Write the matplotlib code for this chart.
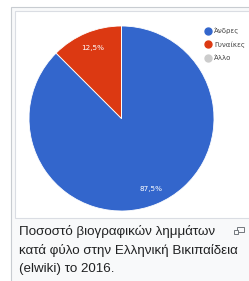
import matplotlib
matplotlib.use("Agg")
import matplotlib.pyplot as plt
from matplotlib.patches import Rectangle
from matplotlib.lines import Line2D

labels = ["Άνδρες", "Γυναίκες", "Άλλο"]
values = [87.5, 12.5, 0.0]
colors = ["#3366cc", "#dc3912", "#cccccc"]
caption = "Ποσοστό βιογραφικών λημμάτων\nκατά φύλο στην Ελληνική Βικιπαίδεια\n(elwiki) το 2016."

W, H = 249, 281
fig = plt.figure(figsize=(W / 100, H / 100), dpi=100)
fig.patch.set_facecolor("white")

def px_rect(x0, y0, x1, y1, **kw):
    return Rectangle((x0 / W, 1 - y1 / H), (x1 - x0) / W, (y1 - y0) / H,
                     transform=fig.transFigure, **kw)

fig.patches.append(px_rect(10.5, 6.5, 260, 290, facecolor="#f8f9fa", edgecolor="#c8ccd1", lw=0.8, zorder=-2))
fig.patches.append(px_rect(14.5, 10.5, 260, 218, facecolor="white", edgecolor="#dadde3", lw=0.8, zorder=-1))

cx, cy, r = 121.5, 118.5, 92.5
ax = fig.add_axes([(cx - r) / W, 1 - (cy + r) / H, 2 * r / W, 2 * r / H])

def fmt(p):
    return "" if p < 0.5 else f"{p:.1f}%".replace(".", ",")

wedges, texts, autotexts = ax.pie(values, colors=colors, startangle=90, counterclock=False,
                                  radius=1, autopct=fmt, pctdistance=0.82,
                                  wedgeprops=dict(edgecolor="white", linewidth=0.6),
                                  textprops=dict(color="white", fontsize=5.2,
                                                 family="DejaVu Sans"))
ax.set_xlim(-1, 1)
ax.set_ylim(-1, 1)
ax.set_aspect("equal")
ax.axis("off")

handles = [Line2D([], [], marker="o", linestyle="none", markersize=5,
                  markerfacecolor=c, markeredgecolor=c) for c in colors]
fig.legend(handles, labels, loc="upper left", bbox_to_anchor=(202 / W, 1 - 24 / H),
           frameon=False, fontsize=5.0, handlelength=0.8, handletextpad=0.45,
           labelspacing=1.05, borderpad=0, labelcolor="#444444")

fig.text(19 / W, 1 - 224.5 / H, caption, ha="left", va="top", fontsize=9.6,
         family="Liberation Sans", color="#202122", linespacing=1.66)

# enlarge icon
fig.patches.append(px_rect(236.5, 226.5, 243.5, 231.5, facecolor="none", edgecolor="#72777d", lw=0.7))
fig.patches.append(px_rect(233.5, 229.5, 237.5, 233.5, facecolor="#f8f9fa", edgecolor="#72777d", lw=0.7))

fig.savefig("out.png", dpi=100)
